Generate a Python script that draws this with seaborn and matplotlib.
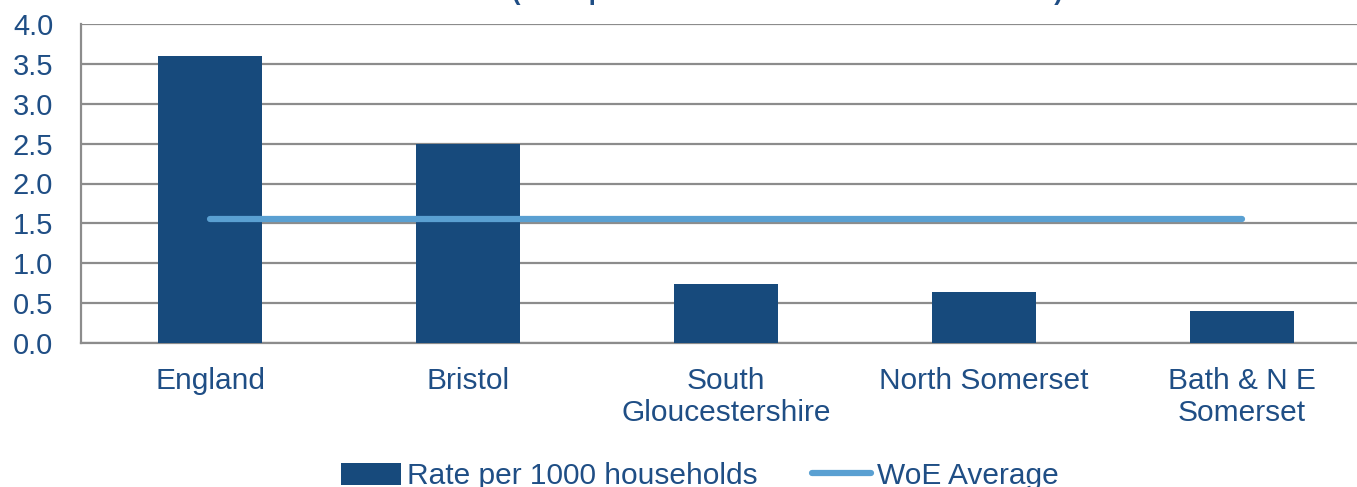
import pandas as pd
import seaborn as sns
import matplotlib.pyplot as plt
import numpy as np
from matplotlib.patches import Patch
from matplotlib.lines import Line2D

# data
areas = ["England", "Bristol", "South\nGloucestershire", "North Somerset", "Bath & N E\nSomerset"]
rate = [3.6, 2.5, 0.74, 0.64, 0.40]
woe_avg = [1.55, 1.55, 1.55, 1.55, 1.55]
yticks = [0.0, 0.5, 1.0, 1.5, 2.0, 2.5, 3.0, 3.5, 4.0]

bar_col = "#174a7c"
line_col = "#5aa0d2"
txt_col = "#1f4e85"
grid_col = "#8c8c8c"

sns.set_style("white")
plt.rcParams['font.family'] = ['Liberation Sans', 'DejaVu Sans']

df = pd.DataFrame({"area": areas, "rate": rate})

fig = plt.figure(figsize=(13.57, 4.87), dpi=100)
# plot area runs a little past the right edge of the image
ax = fig.add_axes([81 / 1357, 1 - 343 / 487, 1290 / 1357, (343 - 24) / 487])

sns.barplot(data=df, x="area", y="rate", color=bar_col, width=0.4,
            saturation=1, ax=ax, zorder=3, edgecolor="none")
ax.plot(np.arange(len(areas)), woe_avg, color=line_col, lw=4.5,
        solid_capstyle="round", zorder=4)

ax.set_xlim(-0.5, len(areas) - 0.5)
ax.set_ylim(0, 4)
ax.set_yticks(yticks)
ax.set_yticklabels([f"{v:.1f}" for v in yticks])
ax.yaxis.grid(True, color=grid_col, lw=1.6)
ax.set_axisbelow(True)
ax.set_xlabel("")
ax.set_ylabel("")

for s in ["top", "right"]:
    ax.spines[s].set_visible(False)
for s in ["left", "bottom"]:
    ax.spines[s].set_color(grid_col)
    ax.spines[s].set_linewidth(1.6)

# ticks on the category boundaries
ax.set_xticks(np.arange(len(areas) + 1) - 0.5, minor=True)
ax.tick_params(axis="x", which="minor", length=7, width=1.6, color=grid_col, direction="out")
ax.tick_params(axis="x", which="major", length=0, pad=17, labelsize=21.5, labelcolor=txt_col)
ax.tick_params(axis="y", length=7, width=1.6, color=grid_col, direction="out",
               pad=13, labelsize=21, labelcolor=txt_col)
ax.set_xticks(np.arange(len(areas)))
ax.set_xticklabels(areas, linespacing=1.22)

# title is clipped at the top of the image
fig.text(0.5805, 1.0, "(rates per 1000 households at 31 March 2014)", ha="center",
         va="baseline", fontsize=18.4, fontweight="bold", color=txt_col)

handles = [Patch(facecolor=bar_col, edgecolor="none"),
           Line2D([0], [0], color=line_col, lw=4.5, solid_capstyle="round")]
leg = fig.legend(handles, ["Rate per 1000 households", "WoE Average"], loc="center",
                 bbox_to_anchor=(0.516, 1 - 476 / 487), ncol=2, frameon=False,
                 fontsize=21.5, handlelength=2.0, handleheight=0.75,
                 handletextpad=0.2, columnspacing=1.8)
for t in leg.get_texts():
    t.set_color(txt_col)

fig.savefig("out.png", dpi=100)
